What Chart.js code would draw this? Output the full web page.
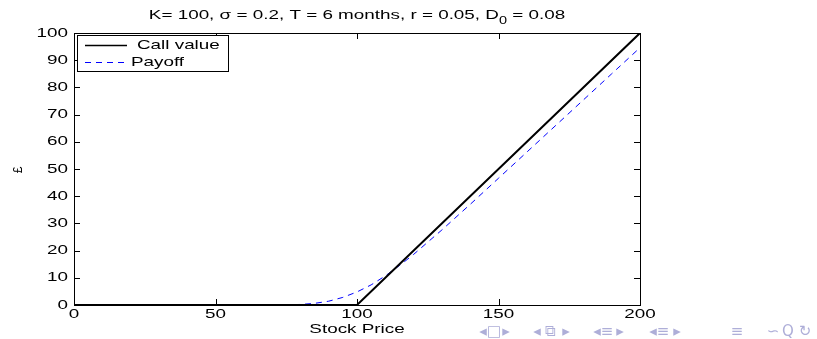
<!DOCTYPE html>
<html>
<head>
<meta charset="utf-8">
<script src="https://cdn.jsdelivr.net/npm/chart.js@4/dist/chart.umd.min.js"></script>
<style>
  html, body { margin: 0; padding: 0; background: #fff; }
  #wrap { width: 817px; height: 339px; }
</style>
</head>
<body>
<div id="wrap"><canvas id="chart" width="817" height="339"></canvas></div>
<script>
// values
const callValueX = [0, 100, 200];
const callValueY = [0, 0, 100];
const payoffX = [0, 10, 20, 30, 40, 50, 60, 70, 80, 85, 90, 95, 100, 105, 110, 115, 120, 130, 140, 150, 160, 170, 180, 190, 200];
const payoffY = [0, 0, 0, 0, 0, 0, 0, 0, 0.2, 0.6, 1.4, 2.8, 4.8, 7.4, 10.7, 14.5, 18.6, 27.6, 37.0, 46.6, 56.2, 65.8, 75.4, 85.0, 94.6];
const xTicks = [0, 50, 100, 150, 200];
const yTicks = [0, 10, 20, 30, 40, 50, 60, 70, 80, 90, 100];
const legendLabels = ['Call value', 'Payoff'];

const FONT = '"Liberation Sans", Arial, sans-serif';
const STRETCH = 1.45; // text in the slide is stretched sideways

function wideText(ctx, text, x, y, align, size, color) {
  ctx.save();
  ctx.font = size + 'px ' + FONT;
  ctx.fillStyle = color || '#000';
  ctx.textBaseline = 'middle';
  let w = ctx.measureText(text).width * STRETCH;
  let left = x;
  if (align === 'center') left = x - w / 2;
  if (align === 'right') left = x - w;
  ctx.translate(left, y);
  ctx.scale(STRETCH, 1);
  ctx.textAlign = 'left';
  ctx.fillText(text, 0, 0);
  ctx.restore();
  return w;
}

const matlabAxes = {
  id: 'matlabAxes',
  afterDatasetsDraw(chart) {
    const { ctx, chartArea: a, scales: { x, y } } = chart;
    ctx.save();
    ctx.strokeStyle = '#000';
    ctx.lineWidth = 1;
    ctx.strokeRect(Math.round(a.left) + 0.5, Math.round(a.top) + 0.5, Math.round(a.right - a.left), Math.round(a.bottom - a.top));
    ctx.beginPath();
    xTicks.forEach(v => {
      const px = Math.round(x.getPixelForValue(v)) + 0.5;
      ctx.moveTo(px, a.bottom); ctx.lineTo(px, a.bottom - 6);
      ctx.moveTo(px, a.top); ctx.lineTo(px, a.top + 6);
    });
    yTicks.forEach(v => {
      const py = Math.round(y.getPixelForValue(v)) + 0.5;
      ctx.moveTo(a.left, py); ctx.lineTo(a.left + 6, py);
      ctx.moveTo(a.right, py); ctx.lineTo(a.right - 6, py);
    });
    ctx.stroke();
    ctx.restore();
  },
  afterDraw(chart) {
    const { ctx, chartArea: a, scales: { x, y } } = chart;
    // tick labels
    xTicks.forEach(v => wideText(ctx, String(v), x.getPixelForValue(v), 314, 'center', 13));
    yTicks.forEach(v => wideText(ctx, String(v), 68, y.getPixelForValue(v), 'right', 13));
    // title with subscript
    const parts = ['K= 100, \u03c3 = 0.2, T = 6 months, r = 0.05, D', '0', ' = 0.08'];
    ctx.save();
    ctx.font = '13px ' + FONT;
    const w0 = ctx.measureText(parts[0]).width * STRETCH;
    const w2 = ctx.measureText(parts[2]).width * STRETCH;
    ctx.font = '10px ' + FONT;
    const w1 = ctx.measureText(parts[1]).width * STRETCH;
    ctx.restore();
    let tx = (a.left + a.right) / 2 - (w0 + w1 + w2) / 2;
    tx += wideText(ctx, parts[0], tx, 15, 'left', 13);
    tx += wideText(ctx, parts[1], tx, 21, 'left', 10);
    wideText(ctx, parts[2], tx, 15, 'left', 13);
    // axis labels
    wideText(ctx, 'Stock Price', (a.left + a.right) / 2, 329, 'center', 13);
    ctx.save();
    ctx.translate(19, 170);
    ctx.rotate(-Math.PI / 2);
    ctx.font = '12px ' + FONT;
    ctx.textAlign = 'center';
    ctx.textBaseline = 'middle';
    ctx.fillStyle = '#000';
    ctx.fillText('\u00a3', 0, 0);
    ctx.restore();
    // legend box
    ctx.save();
    ctx.fillStyle = '#fff';
    ctx.fillRect(77, 35, 151, 36);
    ctx.strokeStyle = '#000';
    ctx.lineWidth = 1;
    ctx.strokeRect(77.5, 35.5, 151, 36);
    ctx.beginPath();
    ctx.moveTo(85, 45.5); ctx.lineTo(127, 45.5);
    ctx.lineWidth = 1.5;
    ctx.stroke();
    ctx.beginPath();
    ctx.setLineDash([6, 5]);
    ctx.strokeStyle = '#0000ff';
    ctx.lineWidth = 1;
    ctx.moveTo(85, 62.5); ctx.lineTo(127, 62.5);
    ctx.stroke();
    ctx.restore();
    wideText(ctx, legendLabels[0], 137, 45, 'left', 13);
    wideText(ctx, legendLabels[1], 131, 62, 'left', 13);
    // beamer navigation symbols
    const nav = [['\u25c2', 483], ['\u25a1', 494], ['\u25b8', 506], ['\u25c2', 537], ['\u29c9', 550], ['\u25b8', 566],
      ['\u25c2', 597], ['\u2261', 607], ['\u25b8', 620], ['\u25c2', 653], ['\u2261', 663], ['\u25b8', 677],
      ['\u2261', 737], ['\u223d', 773], ['Q', 788], ['\u21bb', 805]];
    ctx.save();
    ctx.font = '15px "DejaVu Sans", sans-serif';
    ctx.fillStyle = '#aeaed8';
    ctx.textAlign = 'center';
    ctx.textBaseline = 'middle';
    nav.forEach(([g, nx]) => ctx.fillText(g, nx, 332));
    ctx.restore();
  }
};

new Chart(document.getElementById('chart'), {
  type: 'line',
  data: {
    datasets: [
      {
        label: legendLabels[0],
        data: callValueX.map((v, i) => ({ x: v, y: callValueY[i] })),
        borderColor: '#000',
        borderWidth: 2,
        pointRadius: 0,
        tension: 0
      },
      {
        label: legendLabels[1],
        data: payoffX.map((v, i) => ({ x: v, y: payoffY[i] })),
        borderColor: '#0000ff',
        borderWidth: 1,
        borderDash: [6, 5],
        pointRadius: 0,
        tension: 0
      }
    ]
  },
  options: {
    responsive: false,
    animation: false,
    devicePixelRatio: 1,
    layout: { padding: { left: 74, right: 177, top: 33, bottom: 34 } },
    plugins: { legend: { display: false }, title: { display: false }, tooltip: { enabled: false } },
    scales: {
      x: {
        type: 'linear', min: 0, max: 200,
        ticks: { display: false },
        grid: { display: false, drawTicks: false },
        border: { display: false }
      },
      y: {
        min: 0, max: 100,
        ticks: { display: false },
        grid: { display: false, drawTicks: false },
        border: { display: false }
      }
    }
  },
  plugins: [matlabAxes]
});
</script>
</body>
</html>
